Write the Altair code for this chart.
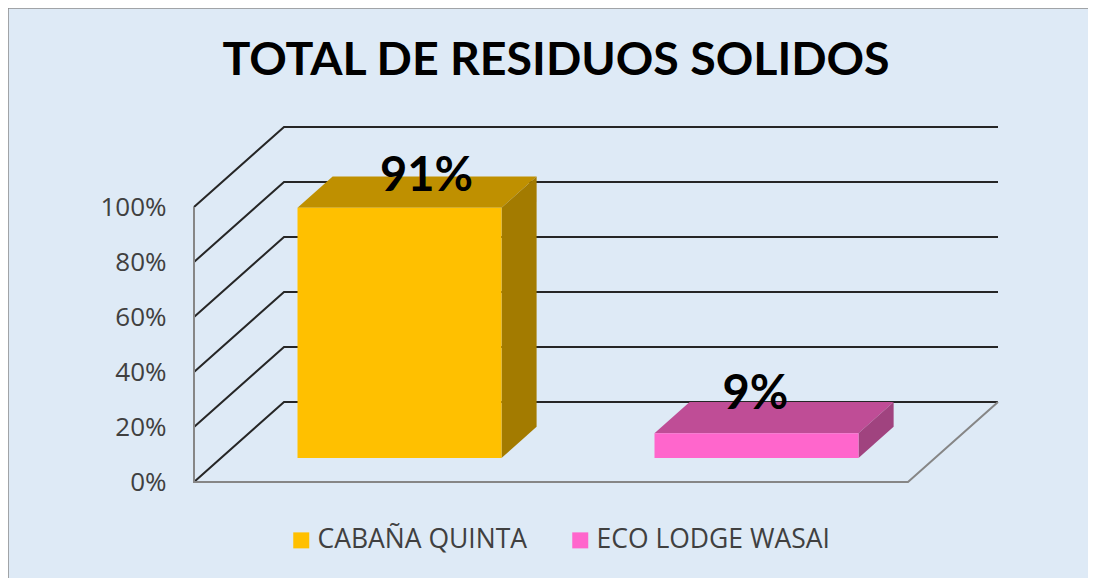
import altair as alt
import pandas as pd

TITLE = "TOTAL DE RESIDUOS SOLIDOS"
categories = ["CABAÑA QUINTA", "ECO LODGE WASAI"]
values = [91, 9]
value_labels = ["91%", "9%"]
front_colors = ["#FFC000", "#FF66CC"]
top_colors = ["#BF9000", "#BF4D96"]
side_colors = ["#A37B00", "#A0437F"]
ticks = [0, 20, 40, 60, 80, 100]

# projection of the pseudo-3D box
PX_PER_PCT = 2.75
PLOT_W, PLOT_H = 804, 355
DEPTH_X, DEPTH_Y = 90, 80 / PX_PER_PCT
FLOOR_W = 714
BAR_W = 204
D_FRONT, D_BACK = 0.3, 0.69
label_dx = [27, -1]
label_dy = [0, 2.6]
BG = "#DEEAF6"
GRID = "#262626"
AXIS = "#868686"
FONT = "Lato"

xs = alt.X("x:Q", scale=alt.Scale(domain=[0, PLOT_W], nice=False, zero=False), axis=None)
ys = alt.Y("y:Q", scale=alt.Scale(domain=[0, PLOT_H / PX_PER_PCT], nice=False, zero=False),
           axis=alt.Axis(values=ticks, labelExpr="datum.value + '%'", title=None, domain=False,
                         ticks=False, grid=False, labelPadding=28, labelFontSize=26,
                         labelFont="Open Sans", labelColor="#404040"))
ysn = ys

grid_rows = []
for t in ticks:
    grid_rows += [
        {"t": t, "o": 0, "x": 0, "y": t},
        {"t": t, "o": 1, "x": DEPTH_X, "y": t + DEPTH_Y},
        {"t": t, "o": 2, "x": PLOT_W, "y": t + DEPTH_Y},
    ]
grid = alt.Chart(pd.DataFrame(grid_rows)).mark_line(color=GRID, strokeWidth=2).encode(
    x=xs, y=ys, detail="t:N", order="o:Q")

floor = alt.Chart(pd.DataFrame([
    {"o": 0, "x": 0, "y": ticks[-1]},
    {"o": 1, "x": 0, "y": 0},
    {"o": 2, "x": FLOOR_W, "y": 0},
    {"o": 3, "x": PLOT_W, "y": DEPTH_Y},
])).mark_line(color=AXIS, strokeWidth=2).encode(x=xs, y=ysn, order="o:Q")

layers = [grid, floor]
dx = DEPTH_X * (D_BACK - D_FRONT)
dy = DEPTH_Y * (D_BACK - D_FRONT)
fronts, labels = [], []
slot = FLOOR_W / len(categories)
for i, (c, v) in enumerate(zip(categories, values)):
    x0 = slot * (i + 0.5) + DEPTH_X * D_FRONT - BAR_W / 2
    x1 = x0 + BAR_W
    base = DEPTH_Y * D_FRONT
    top = base + v
    # top face
    layers.append(alt.Chart(pd.DataFrame([
        {"x": x0, "y": top, "y2": top},
        {"x": x0 + dx, "y": top + dy, "y2": top},
        {"x": x1, "y": top + dy, "y2": top},
        {"x": x1 + dx, "y": top + dy, "y2": top + dy},
    ])).mark_area(color=top_colors[i], opacity=1).encode(x=xs, y=ysn, y2="y2:Q"))
    # side face
    layers.append(alt.Chart(pd.DataFrame([
        {"x": x1, "y": top, "y2": base},
        {"x": x1 + dx, "y": top + dy, "y2": base + dy},
    ])).mark_area(color=side_colors[i], opacity=1).encode(x=xs, y=ysn, y2="y2:Q"))
    fronts.append({"cat": c, "x": x0, "x2": x1, "y": top, "y2": base})
    labels.append({"x": (x0 + x1) / 2 + label_dx[i], "y": top + dy + label_dy[i], "txt": value_labels[i]})

front = alt.Chart(pd.DataFrame(fronts)).mark_rect(opacity=1).encode(
    x=xs, x2="x2:Q", y=ysn, y2="y2:Q",
    color=alt.Color("cat:N", scale=alt.Scale(domain=categories, range=front_colors),
                    legend=alt.Legend(orient="none", legendX=94, legendY=400, direction="horizontal",
                                      title=None, symbolType="square", symbolSize=256,
                                      symbolStrokeWidth=0, symbolOpacity=1, labelFont="Open Sans",
                                      labelFontSize=26.5, labelColor="#404040", labelOffset=3,
                                      labelLimit=400, columnPadding=39, columns=2)))
text = alt.Chart(pd.DataFrame(labels)).mark_text(
    font=FONT, fontWeight="bold", fontSize=47, color="#000000", align="center", baseline="middle"
).encode(x=xs, y=ysn, text="txt:N")

border_l = alt.Chart(pd.DataFrame({"a": [0]})).mark_rule(color="#8C8C8C", strokeWidth=1.5).encode(
    x=alt.value(-186), y=alt.value(-120), y2=alt.value(460))
border_t = alt.Chart(pd.DataFrame({"a": [0]})).mark_rule(color="#8C8C8C", strokeWidth=1.5).encode(
    x=alt.value(-186), x2=alt.value(894), y=alt.value(-119))

chart = alt.layer(*layers, front, text, border_l, border_t).properties(
    width=PLOT_W, height=PLOT_H,
    padding={"left": 186, "top": 119, "right": 90, "bottom": 96},
    autosize=alt.AutoSizeParams(type="none"),
    background=BG,
    title=alt.TitleParams(TITLE, font=FONT, fontWeight="bold", fontSize=46.5, color="#000000",
                          anchor="middle", dx=-40, dy=105, baseline="middle"),
).configure_view(stroke=None)

chart.save("out.html", embed_options={"renderer": "svg", "actions": False})
